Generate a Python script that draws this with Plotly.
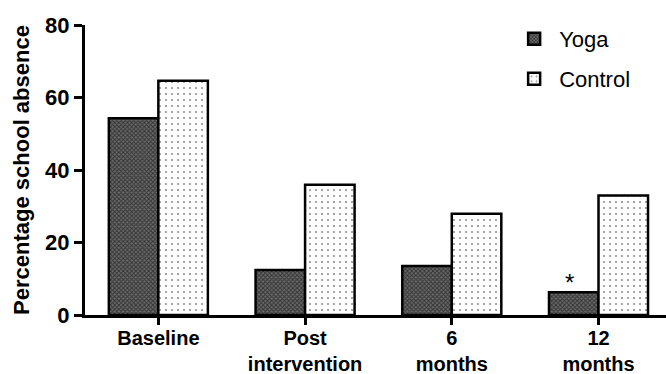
import plotly.graph_objects as go

# School absence (%) by time point
categories = ["Baseline", "Post<br>intervention", "6<br>months", "12<br>months"]
yoga = [54.3, 12.4, 13.5, 6.3]
control = [64.6, 35.9, 27.9, 33.0]
y_ticks = [0, 20, 40, 60, 80]

FONT = "Liberation Sans, Arial, sans-serif"

fig = go.Figure()
fig.add_trace(go.Bar(
    name="Yoga", x=categories, y=yoga, legend="legend", showlegend=True,
    marker=dict(color="#444444",
                line=dict(color="black", width=2.5),
                pattern=dict(shape="x", size=3, solidity=0.55,
                             fgcolor="#000000", bgcolor="#6a6a6a",
                             fillmode="overlay")),
))
fig.add_trace(go.Bar(
    name="Control", x=categories, y=control, legend="legend2", showlegend=True,
    marker=dict(color="white",
                line=dict(color="black", width=2.5),
                pattern=dict(shape=".", size=6, solidity=0.1,
                             fgcolor="#222222", bgcolor="white",
                             fillmode="overlay")),
))

# significance marker above the 12-month Yoga bar
fig.add_annotation(x=categories[3], y=yoga[3], text="*", showarrow=False,
                   xshift=-29, yshift=-6, yanchor="bottom",
                   font=dict(family=FONT, size=24, color="black"))

legend_style = dict(font=dict(family=FONT, size=22, color="black"),
                    bgcolor="rgba(0,0,0,0)", xanchor="left", yanchor="middle",
                    itemwidth=40, visible=True)

fig.update_layout(
    width=666, height=374,
    margin=dict(l=85, r=0, t=25, b=59, autoexpand=False),
    paper_bgcolor="white", plot_bgcolor="white",
    showlegend=True,
    barmode="group", bargap=0.325, bargroupgap=0,
    legend=dict(x=0.73, y=(315 - 39) / 290, **legend_style),
    legend2=dict(x=0.73, y=(315 - 79) / 290, **legend_style),
    xaxis=dict(
        range=[-0.5, 3.46], showline=True, linecolor="black", linewidth=3,
        ticks="outside", ticklen=7, tickwidth=2.5, tickcolor="black",
        ticklabelstandoff=-4,
        tickfont=dict(family=FONT, size=20, color="black", weight="bold"),
        showgrid=False, zeroline=False, fixedrange=True, automargin=False,
    ),
    yaxis=dict(
        range=[0, 80], tickvals=y_ticks, showline=True, linecolor="black",
        linewidth=3, ticks="outside", ticklen=8, tickwidth=2.5,
        tickcolor="black", showgrid=False, zeroline=False, automargin=False,
        tickfont=dict(family=FONT, size=22, color="black", weight="bold"),
        title=dict(text="Percentage school absence", standoff=10,
                   font=dict(family=FONT, size=22, color="black", weight="bold")),
    ),
)

fig.write_html("out.html")
